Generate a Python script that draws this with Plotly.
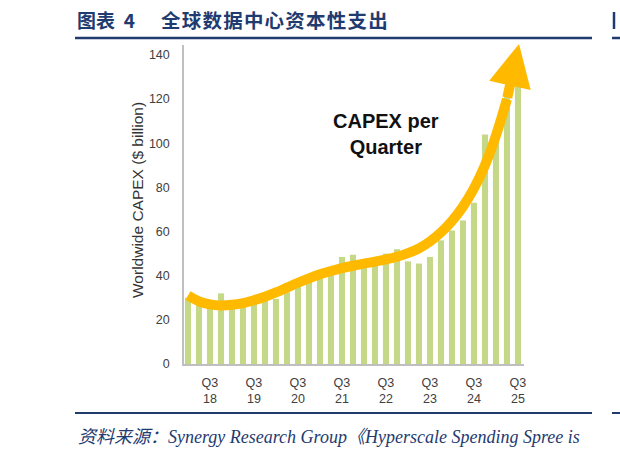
import plotly.graph_objects as go

# ---- data ----
quarters = ["Q1 18", "Q2 18", "Q3 18", "Q4 18",
            "Q1 19", "Q2 19", "Q3 19", "Q4 19",
            "Q1 20", "Q2 20", "Q3 20", "Q4 20",
            "Q1 21", "Q2 21", "Q3 21", "Q4 21",
            "Q1 22", "Q2 22", "Q3 22", "Q4 22",
            "Q1 23", "Q2 23", "Q3 23", "Q4 23",
            "Q1 24", "Q2 24", "Q3 24", "Q4 24",
            "Q1 25", "Q2 25", "Q3 25"]
capex = [30, 27, 26, 32,
         27, 28, 29, 31,
         29.5, 32.5, 36, 38,
         39, 42, 48.5, 49.5,
         46, 47, 50, 52,
         46.5, 45.5, 48.5, 56,
         60.5, 65, 73, 104,
         107, 121, 136]
trend = [31, 28.4, 27, 26.5,
         26.8, 27.6, 28.9, 30.5,
         32.4, 34.6, 36.8, 38.8,
         40.6, 42.1, 43.4, 44.5,
         45.5, 46.4, 47.4, 48.6,
         50.2, 52.4, 55.5, 59.6,
         64.8, 71.3, 79.5, 90,
         103.5, 120]
arrow_tail = (29.0, 120)
arrow_tip = (30.1, 145)
tick_quarters = ["Q3 18", "Q3 19", "Q3 20", "Q3 21", "Q3 22", "Q3 23", "Q3 24", "Q3 25"]
tick_text = ["Q3<br>18", "Q3<br>19", "Q3<br>20", "Q3<br>21", "Q3<br>22", "Q3<br>23", "Q3<br>24", "Q3<br>25"]
yticks = [0, 20, 40, 60, 80, 100, 120, 140]

title_label = "图表&nbsp;&nbsp;4"
title_main = "全球数据中心资本性支出"
source_text = "资料来源：Synergy Research Group《Hyperscale Spending Spree is"
inner_label = "CAPEX per<br>Quarter"
ytitle = "Worldwide CAPEX ($ billion)"

# ---- layout geometry (pixels) ----
W, H = 620, 455
L, R, T, B = 184, 96, 45, 91
PW = W - L - R
PH = H - T - B


def px(xp):
    return (xp - L) / PW


def py(yp):
    return (H - B - yp) / PH


NAVY = "#1F3B70"
ORANGE = "#FFBA00"
idx = list(range(len(quarters)))
hair = "\u200a"

fig = go.Figure()
fig.add_trace(go.Bar(x=idx, y=capex, marker_color="#C4D888",
                     marker_line_width=0, hoverinfo="skip"))
fig.add_trace(go.Scatter(x=list(range(len(trend))), y=trend, mode="lines",
                         line=dict(color=ORANGE, width=10, shape="spline", smoothing=1.0),
                         hoverinfo="skip"))

annotations = [
    dict(x=arrow_tip[0], y=arrow_tip[1], ax=arrow_tail[0], ay=arrow_tail[1],
         xref="x", yref="y", axref="x", ayref="y", showarrow=True,
         arrowhead=2, arrowsize=0.85, arrowwidth=10, arrowcolor=ORANGE,
         standoff=0, startstandoff=0, text=""),
    dict(x=18, y=104, xref="x", yref="y", text="<b>" + inner_label + "</b>", showarrow=False,
         font=dict(family="Liberation Sans, Arial", size=20, color="#111111"),
         align="center"),
    dict(x=px(137), y=py(200), xref="paper", yref="paper", text=ytitle,
         textangle=-90, showarrow=False, xanchor="center", yanchor="middle",
         font=dict(family="Liberation Sans, Arial", size=15.5, color="#333333")),
    dict(x=px(75), y=py(20), xref="paper", yref="paper", text="<b>" + title_label + "</b>",
         showarrow=False, xanchor="left", yanchor="middle",
         font=dict(family="Noto Sans CJK SC", size=19, color=NAVY)),
    dict(x=px(159), y=py(20), xref="paper", yref="paper",
         text="<b>" + hair.join(title_main) + "</b>",
         showarrow=False, xanchor="left", yanchor="middle",
         font=dict(family="Noto Sans CJK SC", size=19.5, color=NAVY)),
    dict(x=px(76), y=py(437), xref="paper", yref="paper", text="<i>" + source_text + "</i>",
         showarrow=False, xanchor="left", yanchor="middle",
         font=dict(family="Liberation Serif, Noto Sans CJK SC", size=18, color=NAVY)),
]

shapes = [
    dict(type="line", xref="paper", yref="paper", x0=px(75), x1=px(592),
         y0=py(38), y1=py(38), line=dict(color=NAVY, width=2.5)),
    dict(type="line", xref="paper", yref="paper", x0=px(75), x1=px(592),
         y0=py(413), y1=py(413), line=dict(color=NAVY, width=2)),
    dict(type="line", xref="paper", yref="paper", x0=px(612), x1=px(625),
         y0=py(38), y1=py(38), line=dict(color=NAVY, width=2.5)),
    dict(type="line", xref="paper", yref="paper", x0=px(612), x1=px(625),
         y0=py(413), y1=py(413), line=dict(color=NAVY, width=2)),
    dict(type="line", xref="paper", yref="paper", x0=px(614), x1=px(614),
         y0=py(12), y1=py(29), line=dict(color=NAVY, width=2.5)),
]

fig.update_layout(
    width=W, height=H,
    margin=dict(l=L, r=R, t=T, b=B),
    paper_bgcolor="white", plot_bgcolor="white",
    showlegend=False, bargap=0.45,
    annotations=annotations, shapes=shapes,
    font=dict(family="Liberation Sans, Arial", size=12, color="#404040"),
)
fig.update_xaxes(range=[-0.36, 30.55], tickvals=[quarters.index(q) for q in tick_quarters],
                 ticktext=tick_text, showgrid=False, zeroline=False,
                 showline=True, linecolor="#BFBFBF", linewidth=1.5,
                 ticks="", ticklabelstandoff=6,
                 tickfont=dict(family="Liberation Sans, Arial", size=12.5, color="#404040"))
fig.update_yaxes(range=[0, 144.5], tickvals=yticks, showgrid=False, zeroline=False,
                 showline=True, linecolor="#BFBFBF", linewidth=1.5,
                 ticks="", ticklabelstandoff=10,
                 tickfont=dict(family="Liberation Sans, Arial", size=12.5, color="#404040"))

fig.write_html("out.html")
